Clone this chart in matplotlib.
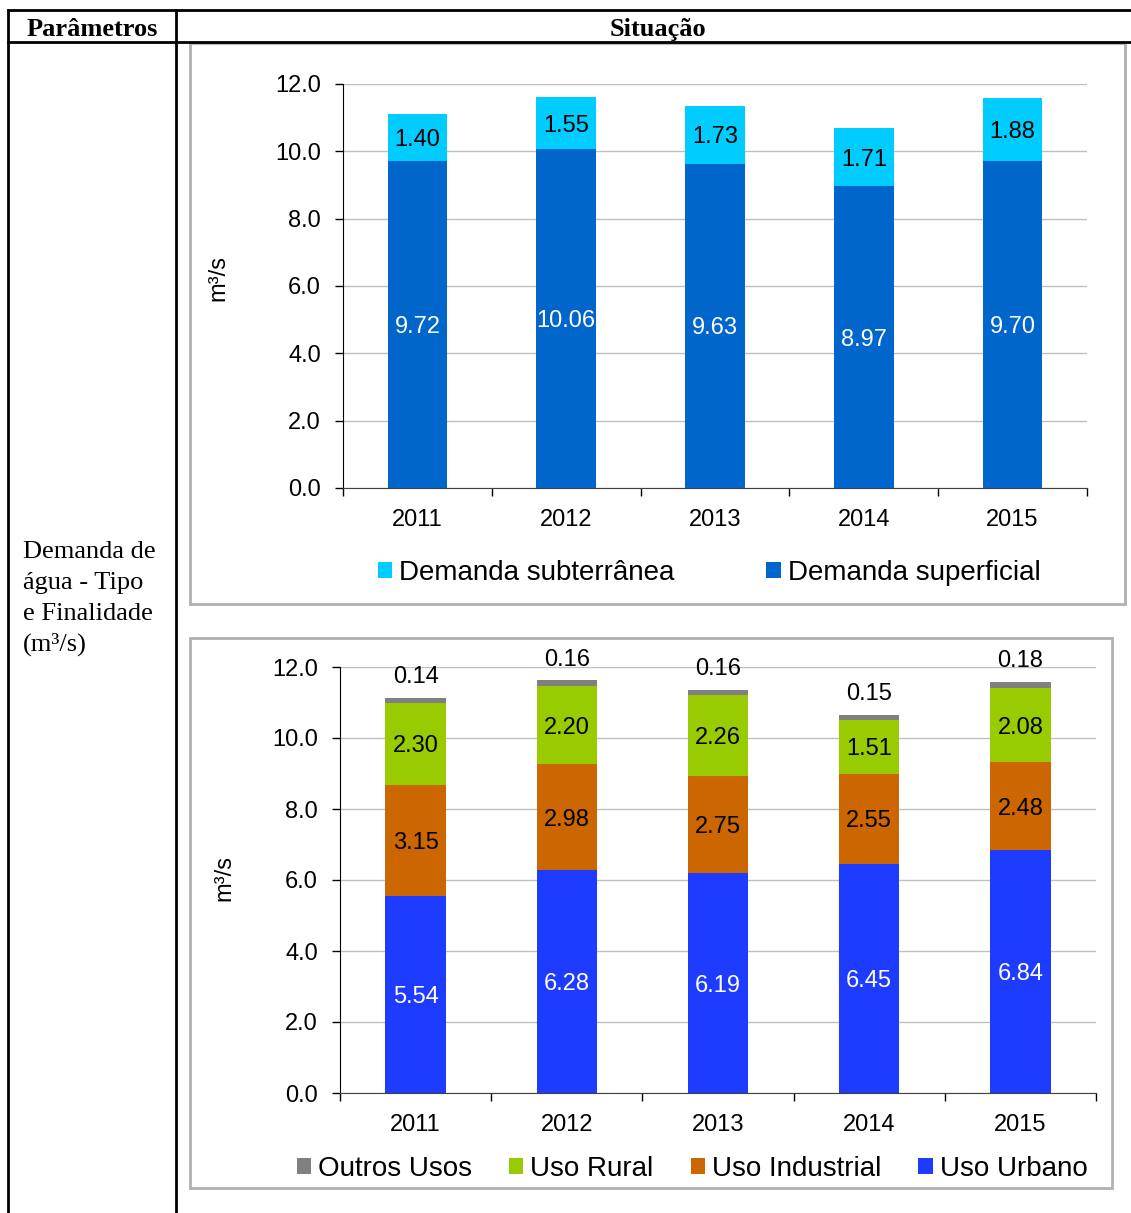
import matplotlib.pyplot as plt
from matplotlib.lines import Line2D
from matplotlib.patches import Rectangle

W, H = 1131, 1213

years = ["2011", "2012", "2013", "2014", "2015"]

superficial = [9.72, 10.06, 9.63, 8.97, 9.70]
subterranea = [1.40, 1.55, 1.73, 1.71, 1.88]

urbano = [5.54, 6.28, 6.19, 6.45, 6.84]
industrial = [3.15, 2.98, 2.75, 2.55, 2.48]
rural = [2.30, 2.20, 2.26, 1.51, 2.08]
outros = [0.14, 0.16, 0.16, 0.15, 0.18]

left_cell = ["Demanda de", "água - Tipo", "e Finalidade", "(m³/s)"]

SANS = "Liberation Sans"
SERIF = "Liberation Serif"


def fx(px):
    return px / W


def fy(py):
    return 1 - py / H


def pixel_axes(fig, x0, y0, x1, y1):
    return fig.add_axes([fx(x0), fy(y1), (x1 - x0) / W, (y1 - y0) / H])


def style_axes(ax, ylabel_x, ylabel_y):
    ax.set_xlim(-0.5, len(years) - 0.5)
    ax.set_ylim(0, 12)
    ax.set_yticks([0, 2, 4, 6, 8, 10, 12])
    ax.set_yticklabels([f"{v:.1f}" for v in ax.get_yticks()])
    ax.set_xticks(range(len(years)))
    ax.set_xticklabels(years)
    ax.set_xticks([i - 0.5 for i in range(len(years) + 1)], minor=True)
    ax.tick_params(axis="x", which="major", length=0, pad=15, labelsize=17)
    ax.tick_params(axis="x", which="minor", length=6, width=1, color="black")
    ax.tick_params(axis="y", length=6, width=1, pad=10, labelsize=17)
    for lab in ax.get_xticklabels() + ax.get_yticklabels():
        lab.set_fontfamily(SANS)
    ax.spines["top"].set_visible(False)
    ax.spines["right"].set_visible(False)
    ax.spines["left"].set_color("black")
    ax.spines["bottom"].set_color("#404040")
    ax.grid(axis="y", color="#bfbfbf", linewidth=1)
    ax.set_axisbelow(True)
    ax.set_ylabel("m³/s", fontsize=17, fontfamily=SANS)
    ax.yaxis.set_label_coords(ylabel_x, ylabel_y)


def label_segments(ax, bars, values, color, centered=True):
    if centered:
        texts = ax.bar_label(bars, labels=[f"{v:.2f}" for v in values],
                             color=color, fontsize=17, fontfamily=SANS,
                             label_type="center")
        for t in texts:
            t.set_va("center_baseline")
    else:
        ax.bar_label(bars, labels=[f"{v:.2f}" for v in values], color=color,
                     fontsize=17, fontfamily=SANS, label_type="edge",
                     padding=7)


fig = plt.figure(figsize=(W / 100, H / 100), dpi=100)

# table frame
line_kw = dict(color="black", linewidth=2, transform=fig.transFigure)
fig.add_artist(Line2D([fx(8), 1], [fy(10), fy(10)], **line_kw))
fig.add_artist(Line2D([fx(8), 1], [fy(42), fy(42)], **line_kw))
fig.add_artist(Line2D([fx(8), fx(8)], [fy(10), 0], **line_kw))
fig.add_artist(Line2D([fx(176), fx(176)], [fy(10), 0], **line_kw))

fig.text(fx(92), fy(27), "Parâmetros", fontfamily=SERIF, fontweight="bold",
         fontsize=19, ha="center", va="center_baseline")
fig.text(fx(658), fy(27), "Situação", fontfamily=SERIF, fontweight="bold",
         fontsize=19, ha="center", va="center_baseline")
for i, line in enumerate(left_cell):
    fig.text(fx(23), fy(550 + i * 30.5), line, fontfamily=SERIF,
             fontsize=19, ha="left", va="center_baseline")

# chart panels
for x0, y0, x1, y1 in [(190, 43, 1125, 604), (190, 638, 1112, 1188)]:
    fig.add_artist(Rectangle((fx(x0), fy(y1)), (x1 - x0) / W, (y1 - y0) / H,
                             transform=fig.transFigure, fill=False,
                             edgecolor="#b0b0b0", linewidth=2))

# top chart: demand by source
ax1 = pixel_axes(fig, 343, 84, 1087, 488)
x = range(len(years))
b_sup = ax1.bar(x, superficial, width=0.4, color="#0066cc",
                label="Demanda superficial")
b_sub = ax1.bar(x, subterranea, width=0.4, bottom=superficial,
                color="#00ccff", label="Demanda subterrânea")
label_segments(ax1, b_sup, superficial, "white")
label_segments(ax1, b_sub, subterranea, "black")
style_axes(ax1, -0.152, 0.52)
ax1.legend(handles=[b_sub, b_sup], loc="center", ncol=2, frameon=False,
           bbox_to_anchor=(fx(709), fy(573)), bbox_transform=fig.transFigure,
           prop={"family": SANS, "size": 20}, handlelength=0.52,
           handleheight=0.52, handletextpad=0.25, columnspacing=3.3,
           borderpad=0, borderaxespad=0)

# bottom chart: demand by use
ax2 = pixel_axes(fig, 340, 667, 1096, 1093)
base_ind = urbano
base_rur = [u + i for u, i in zip(urbano, industrial)]
base_out = [b + r for b, r in zip(base_rur, rural)]
b_urb = ax2.bar(x, urbano, width=0.4, color="#1e3cff", label="Uso Urbano")
b_ind = ax2.bar(x, industrial, width=0.4, bottom=base_ind, color="#cc6600",
                label="Uso Industrial")
b_rur = ax2.bar(x, rural, width=0.4, bottom=base_rur, color="#99cc00",
                label="Uso Rural")
b_out = ax2.bar(x, outros, width=0.4, bottom=base_out, color="#808080",
                label="Outros Usos")
label_segments(ax2, b_urb, urbano, "white")
label_segments(ax2, b_ind, industrial, "black")
label_segments(ax2, b_rur, rural, "black")
label_segments(ax2, b_out, outros, "black", centered=False)
style_axes(ax2, -0.138, 0.505)
ax2.legend(handles=[b_out, b_rur, b_ind, b_urb], loc="center", ncol=4,
           frameon=False, bbox_to_anchor=(fx(692), fy(1169)),
           bbox_transform=fig.transFigure,
           prop={"family": SANS, "size": 20}, handlelength=0.52,
           handleheight=0.52, handletextpad=0.25, columnspacing=1.33,
           borderpad=0, borderaxespad=0)

fig.savefig("out.png", dpi=100)
